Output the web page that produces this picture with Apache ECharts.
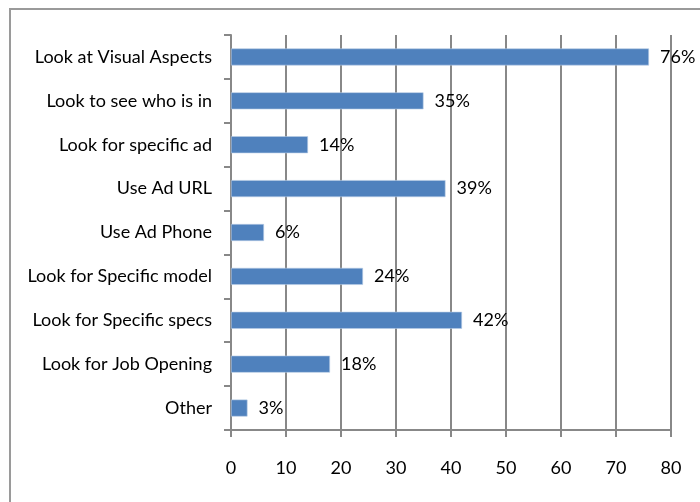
<!DOCTYPE html>
<html><head><meta charset="utf-8">
<script src="https://cdn.jsdelivr.net/npm/echarts@6/dist/echarts.min.js"></script>
<style>html,body{margin:0;padding:0;background:#fff}#c{width:700px;height:502px}</style>
</head><body><div id="c"></div>
<script>
const categories = ["Look at Visual Aspects","Look to see who is in","Look for specific ad","Use Ad URL","Use Ad Phone","Look for Specific model","Look for Specific specs","Look for Job Opening","Other"];
const values = [76,35,14,39,6,24,42,18,3];
const xTicks = {min:0,max:80,interval:10};
const FONT = 'Lato, "Liberation Sans", sans-serif';
const chart = echarts.init(document.getElementById('c'));
chart.setOption({
  animation:false,
  graphic:[{type:'rect',shape:{x:10,y:9,width:720,height:520},style:{fill:'none',stroke:'#9a9a9a',lineWidth:2},z:-1}],
  grid:{left:231,right:29,top:35,bottom:72},
  xAxis:{type:'value',min:xTicks.min,max:xTicks.max,interval:xTicks.interval,
    axisLine:{show:true,lineStyle:{color:'#888',width:2}},
    axisTick:{show:true,length:7,lineStyle:{color:'#888',width:2}},
    splitLine:{show:true,lineStyle:{color:'#888',width:2}},
    axisLabel:{color:'#000',fontFamily:FONT,fontSize:18,margin:29}},
  yAxis:{type:'category',data:categories,inverse:true,
    axisLine:{show:true,lineStyle:{color:'#888',width:2}},
    axisTick:{show:true,length:7,lineStyle:{color:'#888',width:2}},
    axisLabel:{color:'#000',fontFamily:FONT,fontSize:18,margin:19}},
  series:[{type:'bar',data:values,barWidth:17,
    itemStyle:{color:'#4F81BD',borderColor:'#B9CDE5',borderWidth:0.6},
    label:{show:true,position:'right',distance:11,formatter:'{c}%',color:'#000',fontFamily:FONT,fontSize:18}}]
});
</script></body></html>
